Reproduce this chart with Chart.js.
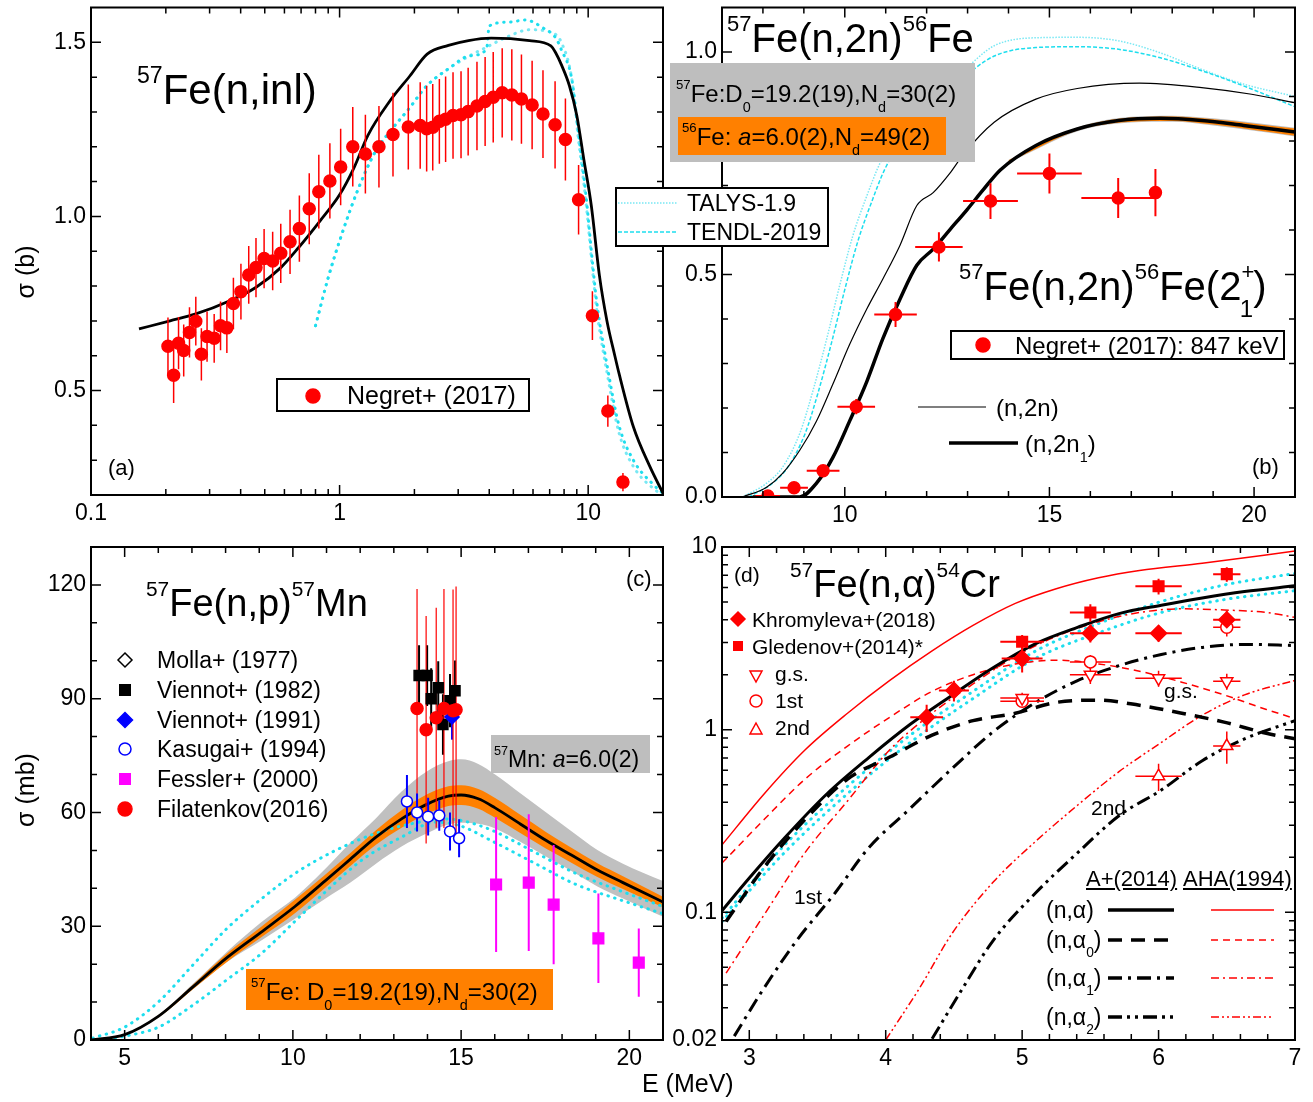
<!DOCTYPE html>
<html>
<head>
<meta charset="utf-8">
<script src="https://cdn.jsdelivr.net/npm/chart.js@4.4.1/dist/chart.umd.min.js"></script>
<style>
  body { margin: 0; background: #fff; }
  #page { position: relative; width: 1313px; height: 1102px; overflow: hidden; font-family: 'Liberation Sans', Arial, sans-serif; }
  canvas { position: absolute; }
  .t { position: absolute; white-space: nowrap; line-height: 1; color: #000; }
  .sup { font-size: 0.55em; position: relative; top: -0.95em; }
  .sub { font-size: 0.6em; position: relative; top: 0.7em; }
</style>
</head>
<body>
<div id="page">
  <canvas id="ca" width="680" height="530" style="left:0;top:0"></canvas>
  <canvas id="cb" width="641" height="530" style="left:672px;top:0"></canvas>
  <canvas id="cc" width="680" height="540" style="left:0;top:530px"></canvas>
  <canvas id="cd" width="641" height="540" style="left:672px;top:530px"></canvas>
  <svg id="deco" width="1313" height="1102" style="position:absolute;left:0;top:0"></svg>
</div>
<script>
// ---------- (a) 57Fe(n,inl), sigma in b ----------
const inlTicksX = [0.1, 1, 10];
const inlTicksY = [0.5, 1.0, 1.5];
const inlNegE = [0.204,0.215,0.225,0.236,0.249,0.264,0.278,0.293,0.313,0.332,0.352,0.374,0.401,0.431,0.461,0.497,0.538,0.58,0.632,0.689,0.755,0.825,0.914,1.01,1.13,1.27,1.44,1.64,1.89,2.11,2.24,2.37,2.52,2.67,2.86,3.08,3.29,3.57,3.85,4.15,4.51,4.93,5.39,5.95,6.58,7.36,8.1,9.15,10.4,12.0,13.8];
const inlNegSig = [0.627,0.544,0.636,0.615,0.667,0.699,0.604,0.655,0.65,0.686,0.68,0.75,0.784,0.832,0.853,0.879,0.872,0.894,0.927,0.965,1.022,1.071,1.102,1.142,1.2,1.179,1.2,1.235,1.257,1.261,1.252,1.256,1.273,1.279,1.29,1.292,1.301,1.317,1.33,1.342,1.355,1.349,1.337,1.32,1.294,1.263,1.221,1.048,0.715,0.441,0.237];
const inlNegErr = [0.083,0.08,0.075,0.075,0.072,0.07,0.075,0.072,0.07,0.07,0.072,0.074,0.08,0.083,0.085,0.085,0.084,0.085,0.092,0.095,0.102,0.106,0.108,0.11,0.114,0.113,0.117,0.12,0.122,0.124,0.123,0.124,0.122,0.123,0.124,0.125,0.126,0.127,0.128,0.13,0.128,0.131,0.128,0.127,0.126,0.125,0.118,0.1,0.07,0.045,0.026];
const inlModelE = [0.156,0.208,0.264,0.362,0.46,0.58,0.683,0.832,1.0,1.14,1.3,1.58,1.92,2.25,2.74,3.3,4.07,5.81,7.08,7.4,7.8,8.4,9.0,9.6,10.3,11.1,11.9,12.8,13.3,15.2,17.7,20];
const inlModelSig = [0.677,0.70,0.72,0.758,0.796,0.853,0.91,0.986,1.062,1.138,1.233,1.328,1.404,1.466,1.491,1.505,1.512,1.505,1.49,1.47,1.436,1.376,1.29,1.165,1.03,0.83,0.70,0.60,0.55,0.396,0.282,0.205];
const inlTalysE = [0.8,0.9,1.02,1.19,1.39,1.63,1.9,2.24,2.73,3.33,4.0,4.8,5.8,7.2,7.8,8.6,9.1,9.8,10.4,10.8,12.0,13.3,15.2,18.4,20];
const inlTalysSig = [0.686,0.824,0.948,1.08,1.185,1.252,1.309,1.375,1.423,1.461,1.49,1.518,1.536,1.527,1.5,1.393,1.233,1.04,0.85,0.738,0.538,0.379,0.282,0.217,0.2];
const inlTendlE = [0.8,0.9,1.02,1.19,1.39,1.63,1.9,2.24,2.73,3.33,3.9,4.0,4.8,5.6,6.6,7.4,7.8,8.6,9.1,9.8,10.4,10.8,12.0,13.3,15.2,18.4,20];
const inlTendlSig = [0.686,0.824,0.948,1.08,1.185,1.252,1.309,1.375,1.423,1.461,1.48,1.547,1.558,1.564,1.541,1.513,1.479,1.393,1.25,1.06,0.87,0.76,0.56,0.40,0.30,0.228,0.205];

// ---------- (b) 57Fe(n,2n)56Fe, sigma in b ----------
const n2nTicksX = [10, 15, 20];
const n2nTicksY = [0.0, 0.5, 1.0];
const n2nE = [7.5,8.09,8.48,8.9,9.31,9.71,10.12,10.54,10.93,11.35,11.76,12.16,12.57,12.9,13.65,14.67,15.68,17.2,18.72,19.94,21];
const n2nSig = [0,0.022,0.053,0.105,0.171,0.254,0.343,0.423,0.49,0.566,0.655,0.684,0.728,0.77,0.842,0.894,0.918,0.93,0.92,0.905,0.886];
const n2n1E = [7.75,8.9,9.31,9.71,10.12,10.54,10.93,11.35,11.76,12.16,12.57,12.99,13.38,13.8,14.67,15.68,16.69,17.71,18.72,19.74,21];
const n2n1Sig = [0,0,0.031,0.089,0.171,0.26,0.356,0.445,0.521,0.557,0.601,0.646,0.69,0.735,0.79,0.827,0.846,0.851,0.846,0.835,0.82];
const n2nBandE = [14,16,18,19,20,21];
const n2nGrayHi = [0.758,0.84,0.857,0.851,0.841,0.83];
const n2nGrayLo = [0.752,0.83,0.843,0.835,0.823,0.81];
const n2nOrHi = [0.757,0.838,0.855,0.849,0.839,0.828];
const n2nOrLo = [0.753,0.832,0.845,0.837,0.825,0.812];
const n2nTalysE = [7.5,8.09,8.48,8.9,9.22,9.56,9.88,10.2,10.54,10.86,11.5,12.2,12.84,13.65,14.67,15.68,16.69,17.71,18.72,19.74,21];
const n2nTalysSig = [0,0.031,0.067,0.143,0.238,0.356,0.477,0.588,0.677,0.75,0.85,0.92,0.955,1.014,1.032,1.033,1.025,0.998,0.961,0.928,0.9];
const n2nTendlE = [7.65,8.22,8.6,9.02,9.34,9.68,10.0,10.32,10.66,10.98,11.6,12.3,12.84,13.65,14.67,15.68,16.69,17.71,18.72,19.74,21];
const n2nTendlSig = [0,0.03,0.066,0.14,0.232,0.348,0.466,0.575,0.664,0.737,0.83,0.9,0.939,0.991,1.01,1.012,1.006,0.987,0.958,0.924,0.877];
const n2nNegE = [8.12,8.76,9.47,10.28,11.24,12.3,13.56,15.0,16.68,17.59];
const n2nNegSig = [0.002,0.021,0.059,0.203,0.41,0.562,0.665,0.727,0.672,0.684];
const n2nNegDE = [0.3,0.34,0.4,0.46,0.52,0.58,0.67,0.79,0.9,0];
const n2nNegDS = [0.005,0.008,0.01,0.017,0.028,0.033,0.04,0.045,0.045,0.053];

// ---------- (c) 57Fe(n,p)57Mn, sigma in mb ----------
const npTicksX = [5, 10, 15, 20];
const npTicksY = [0, 30, 60, 90, 120];
const npE = [4,5,6.01,7.03,8.04,9.05,10.06,10.95,11.71,12.47,13.23,13.99,14.62,15,15.51,16.01,16.77,17.53,18.29,19.05,19.81,21];
const npSig = [0,1.4,6.3,14,21.7,28.4,35.2,41.9,47.7,53.5,58.3,62.2,64.3,64.6,63.6,61.2,56.9,52.6,48.7,44.8,41.5,36.4];
const npGrayHi = [0,1.5,6.6,14.8,23.3,31,37.5,45,52,58.5,65.5,70.9,73.5,74,72.8,70,65,60,55,50.1,46.5,41.9];
const npGrayLo = [0,1.3,6.0,13.4,20.6,26.2,32,37.2,41.5,46.5,51,54.5,56.8,57.3,57,55.8,52.2,48.3,44.5,40.5,37.3,32.5];
const npOrHi = [0,1.5,6.6,14.6,22.8,29.8,37,43.5,49.3,55.3,60.6,64.8,66.9,67.2,66.2,63.8,59.3,54.8,50.6,46.6,43.2,37.8];
const npOrLo = [0,1.3,6.0,13.4,20.6,27,33.4,40.1,45.9,51.5,56,59.6,61.7,62,61,58.6,54.5,50.4,46.7,43,39.8,35];
const npTalysE = [4.05,5,6.01,7.03,8.04,9.05,10.06,11.2,12.47,13.73,14.49,15,15.89,17.15,18.42,19.68,21];
const npTalysSig = [0.5,3.4,10.1,19.8,29.4,37.1,43.9,49.7,54.5,57.4,58.3,57.9,55.4,49.7,43.9,39.5,35.2];
const npTendlE = [4.3,5,6.01,7.03,8.04,9.05,10.06,11.08,12.09,13.23,14.24,15,15.89,17.15,18.42,19.68,21];
const npTendlSig = [0,1,3.4,9.2,15.9,22.7,31.3,40,47.7,53.5,57.4,56.4,52.6,46.8,41,37.1,33.3];
const vien82E = [13.75,13.99,14.11,14.32,14.46,14.67,14.82];
const vien82Sig = [96.1,96.1,90.0,92.9,83.2,89.5,92.1];
const vien82Err = [8,8,8,7,8,7,8];
const filaE = [13.69,13.96,14.26,14.49,14.76,14.85];
const filaSig = [87.4,81.8,85,87.4,86.8,87.1];
const filaErr = [31.5,30,29,31.5,32,32.5];
const vien91E = [14.73];
const vien91Sig = [85.2];
const vien91Err = [6];
const kasuE = [13.39,13.69,14.02,14.35,14.67,14.94];
const kasuSig = [62.9,60,58.9,59.2,55,53.2];
const kasuErr = [7,5,5,4,5,5];
const fessE = [16.04,17.01,17.75,19.08,20.28];
const fessSig = [41,41.5,35.7,26.8,20.4];
const fessErr = [17.8,18,15.7,11.8,9];

// ---------- (d) 57Fe(n,alpha)54Cr, sigma in mb ----------
const naTicksX = [3, 4, 5, 6, 7];
const naTicksY = [0.02, 0.1, 1, 10];
const apAlphaE = [2.8,3.0,3.26,3.57,3.88,4.18,4.49,4.79,5.1,5.41,5.71,6.02,6.32,6.63,7.0];
const apAlphaSig = [0.102,0.154,0.256,0.446,0.708,1.07,1.55,2.19,2.96,3.64,4.32,4.8,5.26,5.7,6.13];
const apA0E = [2.83,3.11,3.41,3.72,4.03,4.34,4.64,4.95,5.25,5.56,5.86,6.17,6.48,6.79,7.0];
const apA0Sig = [0.089,0.177,0.323,0.537,0.708,0.933,1.12,1.23,1.41,1.45,1.36,1.23,1.1,0.955,0.891];
const apA1E = [2.89,3.11,3.35,3.63,3.87,4.18,4.49,4.79,5.1,5.41,5.71,6.02,6.32,6.63,7.0];
const apA1Sig = [0.021,0.0387,0.0705,0.128,0.223,0.371,0.616,0.977,1.41,1.86,2.24,2.58,2.82,2.93,2.89];
const apA2E = [4.34,4.55,4.79,5.1,5.41,5.71,6.02,6.32,6.63,7.0];
const apA2Sig = [0.0203,0.0369,0.0705,0.128,0.213,0.338,0.467,0.676,0.891,1.12];
const ahaAlphaE = [2.8,3.11,3.41,3.72,4.03,4.34,4.64,4.95,5.25,5.56,5.86,6.32,7.0];
const ahaAlphaSig = [0.234,0.446,0.776,1.23,1.86,2.7,3.72,4.91,5.91,6.79,7.44,8.16,9.5];
const ahaA0E = [2.8,3.11,3.41,3.72,4.03,4.34,4.64,4.95,5.25,5.56,5.86,6.17,6.48,6.79,7.0];
const ahaA0Sig = [0.186,0.323,0.537,0.813,1.17,1.62,2.0,2.29,2.4,2.29,2.09,1.82,1.55,1.29,1.15];
const ahaA1E = [2.83,3.11,3.41,3.72,4.03,4.34,4.64,4.95,5.25,5.56,5.86,6.17,6.48,6.79,7.0];
const ahaA1Sig = [0.0465,0.0973,0.213,0.407,0.776,1.23,1.78,2.52,3.24,3.9,4.38,4.59,4.52,4.38,4.12];
const ahaA2E = [4.0,4.25,4.49,4.79,5.1,5.41,5.71,6.02,6.32,6.63,7.0];
const ahaA2Sig = [0.02,0.0387,0.0773,0.147,0.245,0.388,0.589,0.851,1.2,1.55,1.86];
const naTalysE = [2.8,3.26,3.72,4.18,4.64,5.1,5.56,6.02,6.48,7.0];
const naTalysSig = [0.093,0.234,0.489,0.933,1.62,2.7,3.81,5.03,6.19,7.17];
const naTendlSig = [0.089,0.213,0.446,0.851,1.48,2.46,3.39,4.38,5.15,5.77];
const khroE = [4.3,4.5,5.0,5.5,6.0,6.5];
const khroSig = [1.17,1.64,2.45,3.37,3.37,4.0];
const khroRel = [0.17,0.13,0.16,0.11,0.1,0.12];
const khroDE = [0.12,0.11,0.15,0.15,0.17,0.1];
const gledE = [5.0,5.5,6.0,6.5];
const gledSig = [3.03,4.38,6.1,7.1];
const gledRel = [0.09,0.11,0.1,0.09];
const gledDE = [0.16,0.15,0.17,0.1];
const gsE = [5.0,5.5,6.0,6.5];
const gsSig = [1.49,2.0,1.91,1.84];
const gsRel = [0.07,0.11,0.1,0.1];
const gsDE = [0.16,0.15,0.17,0.1];
const firstE = [5.0,5.5,6.5];
const firstSig = [1.43,2.35,3.64];
const firstRel = [0.05,0.09,0.11];
const firstDE = [0.16,0.15,0.1];
const secondE = [6.0,6.5];
const secondSig = [0.556,0.813];
const secondRel = [0.17,0.2];
const secondDE = [0.17,0.1];

const RED = '#ff0000';
const CYAN = 'rgb(30,222,238)';
const CYAN_L = 'rgb(120,232,244)';
const ORANGE = '#ff8000';
const GRAY = '#c0c0c0';

Chart.defaults.font.family = "'Liberation Sans', Arial, sans-serif";
Chart.defaults.color = '#000';

function range(a, b, step) {
  const out = [];
  for (let v = a; v <= b + 1e-9; v += step) out.push(Math.round(v * 1000) / 1000);
  return out;
}
function logMinors(decades) {
  const out = [];
  decades.forEach(d => { for (let k = 2; k <= 9; k++) out.push(d * k); });
  return out;
}

function pts(xs, ys) { return xs.map((x, i) => ({ x: x, y: ys[i] })); }
function vBars(xs, lo, hi) {
  const out = [];
  xs.forEach((x, i) => { out.push({ x: x, y: lo[i] }, { x: x, y: hi[i] }, { x: x, y: null }); });
  return out;
}
function hBars(xs, ys, dx) {
  const out = [];
  xs.forEach((x, i) => {
    if (dx[i] > 0) out.push({ x: x - dx[i], y: ys[i] }, { x: x + dx[i], y: ys[i] }, { x: x, y: null });
  });
  return out;
}
function curve(data, color, width, dash, order, extra) {
  return Object.assign({ data: data, showLine: true, borderColor: color, borderWidth: width,
    borderDash: dash || [], pointRadius: 0, cubicInterpolationMode: 'monotone', fill: false, order: order }, extra || {});
}
function dots(data, color, width, order) {
  return curve(data, color, width, [0.5, 6.5], order, { borderCapStyle: 'round' });
}
function bars(data, color, width, order) {
  return { data: data, showLine: true, borderColor: color, borderWidth: width, pointRadius: 0, fill: false, order: order };
}
function marks(data, style, r, fill, stroke, order, extra) {
  return Object.assign({ data: data, showLine: false, pointStyle: style, pointRadius: r,
    pointBackgroundColor: fill, pointBorderColor: stroke, pointBorderWidth: 1.5, order: order }, extra || {});
}
function band(hi, lo, color, order) {
  return [
    { data: hi, showLine: true, borderColor: 'rgba(0,0,0,0)', borderWidth: 1, pointRadius: 0,
      cubicInterpolationMode: 'monotone', fill: '+1', backgroundColor: color, order: order },
    { data: lo, showLine: true, borderColor: 'rgba(0,0,0,0)', borderWidth: 1, pointRadius: 0,
      cubicInterpolationMode: 'monotone', fill: false, order: order }
  ];
}

// frame around the plot area plus inward ticks on all four sides
const frame = {
  id: 'frame',
  afterDraw(chart, args, o) {
    const ctx = chart.ctx, a = chart.chartArea;
    const xs = chart.scales.x, ys = chart.scales.y;
    ctx.save();
    ctx.strokeStyle = '#000';
    ctx.lineWidth = 1.5;
    const tx = (vals, len) => vals.forEach(v => {
      const p = xs.getPixelForValue(v);
      if (p <= a.left + 1 || p >= a.right - 1) return;
      ctx.beginPath();
      ctx.moveTo(p, a.bottom); ctx.lineTo(p, a.bottom - len);
      ctx.moveTo(p, a.top); ctx.lineTo(p, a.top + len);
      ctx.stroke();
    });
    const ty = (vals, len) => vals.forEach(v => {
      const p = ys.getPixelForValue(v);
      if (p <= a.top + 1 || p >= a.bottom - 1) return;
      ctx.beginPath();
      ctx.moveTo(a.left, p); ctx.lineTo(a.left + len, p);
      ctx.moveTo(a.right, p); ctx.lineTo(a.right - len, p);
      ctx.stroke();
    });
    tx(o.xMajor, 10); tx(o.xMinor, 6);
    ty(o.yMajor, 10); ty(o.yMinor, 6);
    ctx.lineWidth = 2;
    ctx.strokeRect(a.left, a.top, a.right - a.left, a.bottom - a.top);
    ctx.restore();
  }
};

function axis(a, dir) {
  return {
    type: a.type || 'linear', min: a.min, max: a.max,
    position: dir === 'x' ? 'bottom' : 'left',
    grid: { display: false, drawTicks: false }, border: { display: false },
    afterBuildTicks: s => { s.ticks = a.major.map(v => ({ value: v })); },
    afterFit: s => {
      if (dir === 'x') s.height = a.size; else s.width = a.size;
      s.paddingTop = 0; s.paddingBottom = 0; s.paddingLeft = 0; s.paddingRight = 0;
    },
    ticks: { autoSkip: false, maxRotation: 0, minRotation: 0, padding: a.pad, callback: a.fmt, font: { size: 23 } }
  };
}

function makeChart(id, cfg) {
  return new Chart(document.getElementById(id), {
    type: 'scatter',
    data: { datasets: cfg.datasets },
    plugins: [frame],
    options: {
      responsive: false, animation: false, events: [],
      layout: { padding: cfg.pad },
      plugins: { legend: { display: false }, tooltip: { enabled: false }, frame: cfg.ticks },
      scales: { x: axis(cfg.x, 'x'), y: axis(cfg.y, 'y') }
    }
  });
}

const plain = v => String(v);
const oneDec = v => v.toFixed(1);

// (a)
makeChart('ca', {
  pad: { left: 0, top: 5, right: 17, bottom: 0 },
  x: { type: 'logarithmic', min: 0.1, max: 20, major: inlTicksX, size: 35, pad: 5, fmt: plain },
  y: { min: 0.2, max: 1.6, major: inlTicksY, size: 91, pad: 5, fmt: oneDec },
  ticks: { xMajor: inlTicksX, xMinor: logMinors([0.1, 1, 10]).filter(v => v < 20), yMajor: inlTicksY,
           yMinor: range(0.3, 1.5, 0.1).filter(v => inlTicksY.indexOf(v) < 0) },
  datasets: [
    marks(pts(inlNegE, inlNegSig), 'circle', 6, RED, RED, 1),
    bars(vBars(inlNegE, inlNegSig.map((s, i) => s - inlNegErr[i]), inlNegSig.map((s, i) => s + inlNegErr[i])), RED, 1.5, 2),
    curve(pts(inlModelE, inlModelSig), '#000', 2.8, [], 3),
    dots(pts(inlTendlE, inlTendlSig), CYAN, 3, 4),
    dots(pts(inlTalysE, inlTalysSig), CYAN_L, 3, 5)
  ]
});

// (b)
makeChart('cb', {
  pad: { left: 0, top: 5, right: 18, bottom: 0 },
  x: { min: 7, max: 21, major: n2nTicksX, size: 33, pad: 5, fmt: plain },
  y: { min: 0, max: 1.1, major: n2nTicksY, size: 50, pad: 5, fmt: oneDec },
  ticks: { xMajor: n2nTicksX, xMinor: range(8, 20, 1).filter(v => n2nTicksX.indexOf(v) < 0), yMajor: n2nTicksY,
           yMinor: range(0.1, 1.0, 0.1).filter(v => [0.5, 1].indexOf(v) < 0) },
  datasets: [
    marks(pts(n2nNegE, n2nNegSig), 'circle', 6, RED, RED, 1),
    bars(vBars(n2nNegE, n2nNegSig.map((s, i) => s - n2nNegDS[i]), n2nNegSig.map((s, i) => s + n2nNegDS[i])), RED, 2, 2),
    bars(hBars(n2nNegE, n2nNegSig, n2nNegDE), RED, 2, 2),
    curve(pts(n2n1E, n2n1Sig), '#000', 3.5, [], 3),
    curve(pts(n2nE, n2nSig), '#000', 1.2, [], 4),
    ...band(pts(n2nBandE, n2nOrHi), pts(n2nBandE, n2nOrLo), ORANGE, 5),
    ...band(pts(n2nBandE, n2nGrayHi), pts(n2nBandE, n2nGrayLo), GRAY, 6),
    curve(pts(n2nTendlE, n2nTendlSig), CYAN, 1.5, [4, 2], 7),
    curve(pts(n2nTalysE, n2nTalysSig), CYAN_L, 1.5, [1.5, 1.5], 8)
  ]
});

// (c)
makeChart('cc', {
  pad: { left: 0, top: 17, right: 17, bottom: 0 },
  x: { min: 4, max: 21, major: npTicksX, size: 30, pad: 5, fmt: plain },
  y: { min: 0, max: 130, major: npTicksY, size: 91, pad: 5, fmt: plain },
  ticks: { xMajor: npTicksX, xMinor: range(5, 20, 1).filter(v => npTicksX.indexOf(v) < 0), yMajor: npTicksY,
           yMinor: range(10, 120, 10).filter(v => npTicksY.indexOf(v) < 0) },
  datasets: [
    marks(pts(kasuE, kasuSig), 'circle', 5.5, '#fff', '#0000ff', 1),
    bars(vBars(kasuE, kasuSig.map((s, i) => s - kasuErr[i]), kasuSig.map((s, i) => s + kasuErr[i])), '#0000ff', 2, 2),
    marks(pts(filaE, filaSig), 'circle', 6, RED, RED, 1),
    bars(vBars(filaE, filaSig.map((s, i) => s - filaErr[i]), filaSig.map((s, i) => s + filaErr[i])), RED, 1.2, 2),
    marks(pts(vien91E, vien91Sig), 'rectRot', 7, '#0000ff', '#0000ff', 1),
    bars(vBars(vien91E, vien91Sig.map((s, i) => s - vien91Err[i]), vien91Sig.map((s, i) => s + vien91Err[i])), '#0000ff', 2, 2),
    marks(pts(vien82E, vien82Sig), 'rect', 7, '#000', '#000', 1),
    bars(vBars(vien82E, vien82Sig.map((s, i) => s - vien82Err[i]), vien82Sig.map((s, i) => s + vien82Err[i])), '#000', 2, 2),
    marks(pts(fessE, fessSig), 'rect', 7.5, '#ff00ff', '#ff00ff', 1),
    bars(vBars(fessE, fessSig.map((s, i) => s - fessErr[i]), fessSig.map((s, i) => s + fessErr[i])), '#ff00ff', 2, 2),
    curve(pts(npE, npSig), '#000', 2.8, [], 3),
    dots(pts(npTalysE, npTalysSig), CYAN, 3, 4),
    dots(pts(npTendlE, npTendlSig), CYAN, 3, 4),
    ...band(pts(npE, npOrHi), pts(npE, npOrLo), ORANGE, 5),
    ...band(pts(npE, npGrayHi), pts(npE, npGrayLo), GRAY, 6)
  ]
});

// (d)
function relLo(s, r) { return s.map((v, i) => v * (1 - r[i])); }
function relHi(s, r) { return s.map((v, i) => v * (1 + r[i])); }
makeChart('cd', {
  pad: { left: 0, top: 17, right: 18, bottom: 0 },
  x: { min: 2.8, max: 7, major: naTicksX, size: 30, pad: 5, fmt: plain },
  y: { type: 'logarithmic', min: 0.02, max: 10, major: naTicksY, size: 50, pad: 5, fmt: plain },
  ticks: { xMajor: naTicksX, xMinor: range(3.2, 6.8, 0.2).filter(v => naTicksX.indexOf(v) < 0), yMajor: naTicksY,
           yMinor: logMinors([0.01, 0.1, 1]).filter(v => v > 0.02) },
  datasets: [
    marks(pts(khroE, khroSig), 'rectRot', 8, RED, RED, 1),
    marks(pts(gledE, gledSig), 'rect', 7.5, RED, RED, 1),
    marks(pts(gsE, gsSig), 'triangle', 7, '#fff', RED, 1, { pointRotation: 180 }),
    marks(pts(firstE, firstSig), 'circle', 6, '#fff', RED, 1),
    marks(pts(secondE, secondSig), 'triangle', 7, '#fff', RED, 1),
    bars(vBars(khroE, relLo(khroSig, khroRel), relHi(khroSig, khroRel)), RED, 2, 2),
    bars(hBars(khroE, khroSig, khroDE), RED, 2, 2),
    bars(vBars(gledE, relLo(gledSig, gledRel), relHi(gledSig, gledRel)), RED, 2, 2),
    bars(hBars(gledE, gledSig, gledDE), RED, 2, 2),
    bars(vBars(gsE, relLo(gsSig, gsRel), relHi(gsSig, gsRel)), RED, 1.5, 2),
    bars(hBars(gsE, gsSig, gsDE), RED, 1.5, 2),
    bars(vBars(firstE, relLo(firstSig, firstRel), relHi(firstSig, firstRel)), RED, 1.5, 2),
    bars(hBars(firstE, firstSig, firstDE), RED, 1.5, 2),
    bars(vBars(secondE, relLo(secondSig, secondRel), relHi(secondSig, secondRel)), RED, 1.5, 2),
    bars(hBars(secondE, secondSig, secondDE), RED, 1.5, 2),
    curve(pts(apAlphaE, apAlphaSig), '#000', 3, [], 3),
    curve(pts(apA0E, apA0Sig), '#000', 3.5, [14, 9], 3),
    curve(pts(apA1E, apA1Sig), '#000', 3, [14, 6, 3, 6], 3),
    curve(pts(apA2E, apA2Sig), '#000', 3, [14, 5, 3, 5, 3, 5], 3),
    curve(pts(ahaAlphaE, ahaAlphaSig), RED, 1.5, [], 4),
    curve(pts(ahaA0E, ahaA0Sig), RED, 1.5, [7, 5], 4),
    curve(pts(ahaA1E, ahaA1Sig), RED, 1.5, [8, 4, 2, 4], 4),
    curve(pts(ahaA2E, ahaA2Sig), RED, 1.5, [8, 3, 2, 3, 2, 3], 4),
    dots(pts(naTalysE, naTalysSig), CYAN, 3, 5),
    dots(pts(naTalysE, naTendlSig), CYAN, 3, 5)
  ]
});

// ---------- annotations ----------
const page = document.getElementById('page');
const svg = document.getElementById('deco');
function el(tag, attrs) {
  const e = document.createElementNS('http://www.w3.org/2000/svg', tag);
  for (const k in attrs) e.setAttribute(k, attrs[k]);
  svg.appendChild(e);
  return e;
}
function rect(x, y, w, h, fill, stroke) {
  el('rect', { x: x, y: y, width: w, height: h, fill: fill, stroke: stroke || 'none', 'stroke-width': stroke ? 2 : 0 });
}
function seg(x1, x2, y, color, w, dash) {
  el('line', { x1: x1, x2: x2, y1: y, y2: y, stroke: color, 'stroke-width': w, 'stroke-dasharray': dash || 'none' });
}
function circ(x, y, r, fill, stroke) { el('circle', { cx: x, cy: y, r: r, fill: fill, stroke: stroke, 'stroke-width': 1.5 }); }
function poly(p, fill, stroke) { el('polygon', { points: p, fill: fill, stroke: stroke, 'stroke-width': 1.5 }); }
function diamond(x, y, r, fill, stroke) { poly(`${x},${y - r} ${x + r},${y} ${x},${y + r} ${x - r},${y}`, fill, stroke); }
function square(x, y, s, fill) { rect(x - s / 2, y - s / 2, s, s, fill); }
function txt(x, base, html, size, extra) {
  const d = document.createElement('div');
  d.className = 't';
  d.style.left = x + 'px';
  d.style.top = (base - 0.846 * size) + 'px';
  d.style.fontSize = size + 'px';
  if (extra) d.style.cssText += extra;
  d.innerHTML = html;
  page.appendChild(d);
}
function vtxt(cx, cy, html, size) {
  const d = document.createElement('div');
  d.className = 't';
  d.style.left = cx + 'px';
  d.style.top = cy + 'px';
  d.style.fontSize = size + 'px';
  d.style.transform = 'translate(-50%,-50%) rotate(-90deg)';
  d.innerHTML = html;
  page.appendChild(d);
}
const sup = s => `<span class="sup">${s}</span>`;
const sub = s => `<span class="sub">${s}</span>`;

// (a)
txt(137, 105, sup('57') + 'Fe(n,inl)', 42);
txt(108, 476, '(a)', 22);
rect(277, 379, 252, 32, '#fff', '#000');
circ(313, 396, 7, RED, RED);
txt(347, 404, 'Negret+ (2017)', 25);
rect(616, 188, 212, 58, '#fff', '#000');
seg(618, 678, 203, CYAN_L, 1.5, '1.5,1.5');
seg(618, 678, 232, CYAN, 1.5, '4,2');
txt(687, 211, 'TALYS-1.9', 23);
txt(687, 240, 'TENDL-2019', 23);
vtxt(25, 272, 'σ (b)', 25);

// (b)
txt(727, 52, sup('57') + 'Fe(n,2n)' + sup('56') + 'Fe', 40);
rect(670, 63, 305, 99, '#bebebe');
rect(678, 117, 268, 38, ORANGE);
txt(676, 102, sup('57') + 'Fe:D' + sub('0') + '=19.2(19),N' + sub('d') + '=30(2)', 24);
txt(682, 145, sup('56') + 'Fe: <i>a</i>=6.0(2),N' + sub('d') + '=49(2)', 24);
txt(959, 300, sup('57') + 'Fe(n,2n)' + sup('56') + 'Fe(2' + sup('+') +
    '<span class="sub" style="margin-left:-0.6em">1</span>)', 40);
rect(951, 331, 333, 28, '#fff', '#000');
circ(983, 345, 7, RED, RED);
txt(1015, 354, 'Negret+ (2017): 847 keV', 24);
seg(918, 986, 407, '#000', 1.2);
txt(996, 416, '(n,2n)', 24);
seg(949, 1018, 443, '#000', 3.5);
txt(1025, 452, '(n,2n' + sub('1') + ')', 24);
txt(1252, 475, '(b)', 22);

// (c)
txt(146, 616, sup('57') + 'Fe(n,p)' + sup('57') + 'Mn', 38);
txt(626, 587, '(c)', 22);
const npLegend = ['Molla+ (1977)', 'Viennot+ (1982)', 'Viennot+ (1991)', 'Kasugai+ (1994)', 'Fessler+ (2000)', 'Filatenkov(2016)'];
const npRows = [660, 690, 720, 749, 779, 809];
diamond(125, npRows[0], 7, '#fff', '#000');
square(125, npRows[1], 12, '#000');
diamond(125, npRows[2], 7.5, '#0000ff', '#0000ff');
circ(125, npRows[3], 6, '#fff', '#0000ff');
square(125, npRows[4], 12, '#ff00ff');
circ(125, npRows[5], 7, RED, RED);
npLegend.forEach((s, i) => txt(157, npRows[i] + 8, s, 23));
rect(491, 735, 159, 38, '#bebebe');
txt(494, 767, sup('57') + 'Mn: <i>a</i>=6.0(2)', 23);
rect(246, 969, 307, 41, ORANGE);
txt(251, 1000, sup('57') + 'Fe: D' + sub('0') + '=19.2(19),N' + sub('d') + '=30(2)', 24);
vtxt(25, 790, 'σ (mb)', 25);
txt(642, 1092, 'E (MeV)', 25);

// (d)
txt(734, 582, '(d)', 21);
txt(790, 597, sup('57') + 'Fe(n,α)' + sup('54') + 'Cr', 38);
diamond(738, 619, 7, RED, RED);
square(738, 646, 10, RED);
poly('750,671 762,671 756,682', '#fff', RED);
circ(756, 701, 6, '#fff', RED);
poly('756,723 762,734 750,734', '#fff', RED);
txt(752, 627, 'Khromyleva+(2018)', 21);
txt(752, 654, 'Gledenov+(2014)*', 21);
txt(775, 681, 'g.s.', 21);
txt(775, 708, '1st', 21);
txt(775, 735, '2nd', 21);
txt(1164, 698, 'g.s.', 21);
txt(1091, 815, '2nd', 21);
txt(794, 904, '1st', 21);
txt(1086, 887, '<u>A+(2014)</u>', 22);
txt(1183, 887, '<u>AHA(1994)</u>', 22);
const naRows = [910, 940, 978, 1017];
const naLabels = ['(n,α)', '(n,α' + sub('0') + ')', '(n,α' + sub('1') + ')', '(n,α' + sub('2') + ')'];
const blackDash = ['none', '14,9', '14,6,3,6', '14,5,3,5,3,5'];
const redDash = ['none', '7,5', '8,4,2,4', '8,3,2,3,2,3'];
naRows.forEach((y, i) => {
  txt(1046, y + 8, naLabels[i], 23);
  seg(1108, 1174, y, '#000', 3.5, blackDash[i]);
  seg(1211, 1274, y, RED, 1.5, redDash[i]);
});
</script>
</body>
</html>
